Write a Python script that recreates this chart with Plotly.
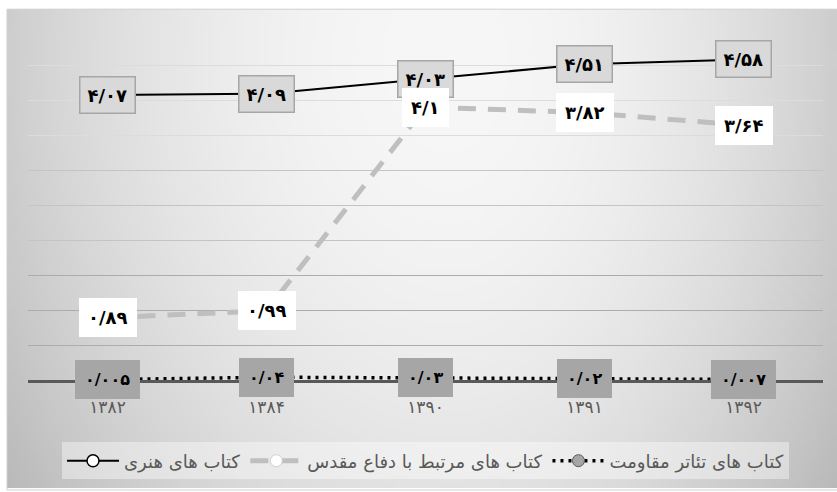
import base64
import struct
import zlib

import numpy as np
import plotly.graph_objects as go

# ---------------- data ----------------
years = ["۱۳۸۲", "۱۳۸۴", "۱۳۹۰", "۱۳۹۱", "۱۳۹۲"]

honari_name = "کتاب های هنری"
honari_values = [4.07, 4.09, 4.30, 4.51, 4.58]
honari_labels = ["۴/۰۷", "۴/۰۹", "۴/۰۳", "۴/۵۱", "۴/۵۸"]

defa_name = "کتاب های مرتبط با دفاع مقدس"
defa_values = [0.89, 0.99, 3.90, 3.82, 3.64]
defa_labels = ["۰/۸۹", "۰/۹۹", "۴/۱", "۳/۸۲", "۳/۶۴"]

teatr_name = "کتاب های تئاتر مقاومت"
teatr_values = [0.005, 0.04, 0.03, 0.02, 0.007]
teatr_labels = ["۰/۰۰۵", "۰/۰۴", "۰/۰۳", "۰/۰۲", "۰/۰۰۷"]

# ---------------- geometry ----------------
W, H = 837, 492
L, R, T, B = 28, 823, 30, 383
FONT = "DejaVu Sans"


def px_x(v):
    return (v - L) / (R - L)


def px_y(v):
    return (B - v) / (B - T)


# background gradient image (pure style)
GW, GH = 210, 122
gx = np.linspace(7, W, GW)
gy = np.linspace(9, H, GH)
X, Y = np.meshgrid(gx, gy)
dx = X - 450
sx = np.where(dx < 0, 470.0, 410.0)
d2 = (dx / sx) ** 2 + ((Y - 60) / 650.0) ** 2
g = np.clip(247 - 46 * d2, 0, 255).astype(np.uint8)
raw = b"".join(b"\x00" + g[r].tobytes() for r in range(GH))


def _chunk(tag, data):
    return (struct.pack(">I", len(data)) + tag + data
            + struct.pack(">I", zlib.crc32(tag + data) & 0xFFFFFFFF))


png = (b"\x89PNG\r\n\x1a\n"
       + _chunk(b"IHDR", struct.pack(">IIBBBBB", GW, GH, 8, 0, 0, 0, 0))
       + _chunk(b"IDAT", zlib.compress(raw))
       + _chunk(b"IEND", b""))
bg_src = "data:image/png;base64," + base64.b64encode(png).decode()

fig = go.Figure()

fig.add_trace(go.Scatter(
    x=years, y=honari_values, name=honari_name, mode="lines+markers",
    line=dict(color="#000000", width=2),
    marker=dict(symbol="circle", size=12, color="white",
                line=dict(color="#000000", width=1.5)),
    hoverinfo="skip",
))
fig.add_trace(go.Scatter(
    x=years, y=defa_values, name=defa_name, mode="lines+markers",
    line=dict(color="#bfbfbf", width=5, dash="18px,12px"),
    marker=dict(symbol="circle", size=12, color="white",
                line=dict(color="#d0d0d0", width=1)),
    hoverinfo="skip",
))
fig.add_trace(go.Scatter(
    x=years, y=teatr_values, name=teatr_name, mode="lines+markers",
    line=dict(color="#000000", width=3.5, dash="3px,5px"),
    marker=dict(symbol="circle", size=12, color="#a6a6a6",
                line=dict(color="#595959", width=1)),
    hoverinfo="skip",
))
# empty helpers so the overlay grid axes are drawn
fig.add_trace(go.Scatter(x=[], y=[], yaxis="y2", showlegend=False, hoverinfo="skip"))
fig.add_trace(go.Scatter(x=[], y=[], yaxis="y3", showlegend=False, hoverinfo="skip"))

annotations = []
for x, v, t in zip(years, honari_values, honari_labels):
    annotations.append(dict(
        x=x, y=v, text=t, showarrow=False, xref="x", yref="y",
        font=dict(family=FONT, size=18, color="#000000", weight="bold"),
        bgcolor="#d9d9d9", bordercolor="#a6a6a6", borderwidth=1.5, borderpad=7,
    ))
for x, v, t in zip(years, defa_values, defa_labels):
    annotations.append(dict(
        x=x, y=v, text=t, showarrow=False, xref="x", yref="y",
        font=dict(family=FONT, size=18, color="#000000", weight="bold"),
        bgcolor="#ffffff", borderwidth=0, borderpad=9,
    ))
for x, v, t in zip(years, teatr_values, teatr_labels):
    annotations.append(dict(
        x=x, y=v, text=t, showarrow=False, xref="x", yref="y",
        font=dict(family=FONT, size=16, color="#000000", weight="bold"),
        bgcolor="#a6a6a6", borderwidth=0, borderpad=10,
    ))

grid_common = dict(range=[0, 5], showticklabels=False, ticks="", zeroline=False,
                   showline=False, gridwidth=1.3, fixedrange=True)

fig.update_layout(
    width=W, height=H,
    margin=dict(l=L, r=W - R, t=T, b=H - B, pad=0),
    paper_bgcolor="#ffffff",
    plot_bgcolor="rgba(0,0,0,0)",
    font=dict(family=FONT, color="#595959"),
    showlegend=True,
    xaxis=dict(
        type="category", range=[-0.5, 4.5], autorange=False,
        showgrid=False, showline=True, linecolor="#595959",
        linewidth=2.5, ticks="", layer="below traces", zeroline=False,
        tickfont=dict(family=FONT, size=17, color="#595959"),
        ticklabelstandoff=10, fixedrange=True,
    ),
    yaxis=dict(tickvals=[0.5, 1.0, 1.5], gridcolor="#acacac", layer="below traces",
               **grid_common),
    yaxis2=dict(overlaying="y", tickvals=[2.0, 2.5, 3.0], gridcolor="#c4c4c4",
                layer="below traces", **grid_common),
    yaxis3=dict(overlaying="y", tickvals=[3.5, 4.0, 4.5, 5.0], gridcolor="#dcdcdc",
                layer="below traces", **grid_common),
    legend=dict(
        orientation="h", x=0.5, xanchor="center", y=px_y(446), yanchor="top",
        bgcolor="rgba(255,255,255,0.4)", borderwidth=0,
        font=dict(family=FONT, size=18, color="#595959"),
        itemwidth=52,
    ),
    annotations=annotations,
    images=[dict(
        source=bg_src, xref="paper", yref="paper",
        x=px_x(7), y=px_y(9), sizex=(W - 7) / (R - L), sizey=(H - 9) / (B - T),
        xanchor="left", yanchor="top", sizing="stretch", layer="below",
    )],
    shapes=[dict(
        type="rect", xref="paper", yref="paper",
        x0=px_x(7), x1=px_x(W + 2), y0=px_y(H + 2), y1=px_y(9),
        line=dict(color="#d0d0d0", width=1), fillcolor="rgba(0,0,0,0)",
        layer="below",
    )],
)

fig.write_html("out.html")
